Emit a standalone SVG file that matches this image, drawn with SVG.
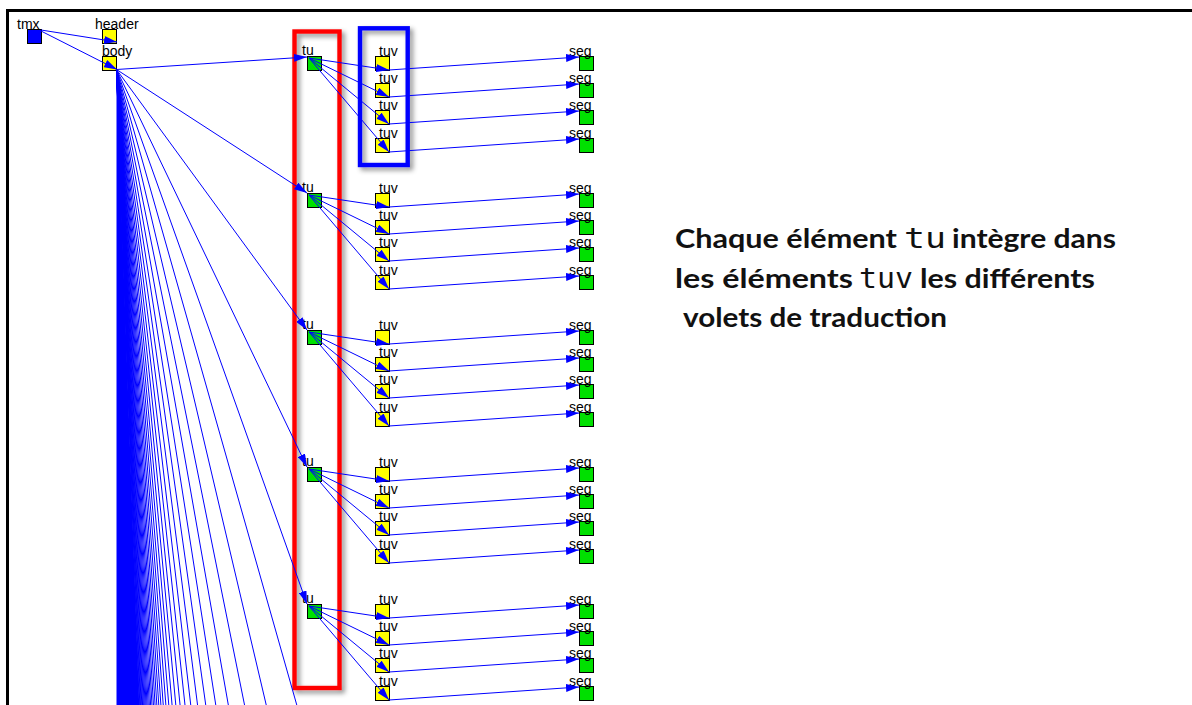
<svg xmlns="http://www.w3.org/2000/svg" width="1192" height="705" viewBox="0 0 1192 705">
<style>
.sq{stroke:#000;stroke-width:1}
.b{fill:#0000ff}
.y{fill:#ffff00}
.g{fill:#00e000}
.l{font-family:"Liberation Sans",Arial,sans-serif;font-size:14px;fill:#000}
.e{fill:none;stroke:#0000ff;stroke-width:1}
.a{marker-end:url(#ah)}
.p{font-family:Lato,"Open Sans",sans-serif;font-weight:700;font-size:27px;fill:#111}
.m{font-family:"DejaVu Sans Mono","Liberation Mono",monospace;font-size:28px;fill:#111}
.box{fill:none;stroke-width:4.4;filter:url(#sh)}
</style>
<defs>
<marker id="ah" markerUnits="userSpaceOnUse" markerWidth="13" markerHeight="8" refX="13" refY="4" orient="auto" viewBox="0 0 13 8"><path d="M0,0L13,4L0,8Z" fill="#0000ff"/></marker>
<filter id="sh" x="-30%" y="-10%" width="170%" height="125%"><feDropShadow dx="3" dy="3" stdDeviation="2.5" flood-color="#000" flood-opacity="0.45"/></filter>
</defs>
<rect width="1192" height="705" fill="#fff"/>
<path d="M7.5,705V10.5H1192" fill="none" stroke="#000" stroke-width="3"/>

<rect class="box" x="294.5" y="31.5" width="45" height="656.5" stroke="#ff0000"/>
<rect class="box" x="360" y="28.3" width="47.7" height="136.7" stroke="#0000ff"/>

<g id="nodes">
<g id="tmx"><rect class="sq b" x="27.5" y="29.5" width="14" height="14"/><text class="l" x="17" y="29">tmx</text></g>
<g id="header"><rect class="sq y" x="102.5" y="29.5" width="14" height="14"/><text class="l" x="95" y="29">header</text></g>
<g id="body"><rect class="sq y" x="102.5" y="56.5" width="14" height="14"/><text class="l" x="102" y="56">body</text></g>

<g id="tu1"><rect class="sq g" x="307.5" y="56.5" width="14" height="14"/><text class="l" x="302" y="55">tu</text></g>
<g id="tuv1a"><rect class="sq y" x="375.5" y="56.5" width="14" height="14"/><text class="l" x="379" y="56">tuv</text></g>
<g id="tuv1b"><rect class="sq y" x="375.5" y="83.5" width="14" height="14"/><text class="l" x="379" y="83">tuv</text></g>
<g id="tuv1c"><rect class="sq y" x="375.5" y="110.5" width="14" height="14"/><text class="l" x="379" y="110">tuv</text></g>
<g id="tuv1d"><rect class="sq y" x="375.5" y="138.5" width="14" height="14"/><text class="l" x="379" y="138">tuv</text></g>
<g id="seg1a"><rect class="sq g" x="579.5" y="56.5" width="14" height="14"/><text class="l" x="569" y="56">seg</text></g>
<g id="seg1b"><rect class="sq g" x="579.5" y="83.5" width="14" height="14"/><text class="l" x="569" y="83">seg</text></g>
<g id="seg1c"><rect class="sq g" x="579.5" y="110.5" width="14" height="14"/><text class="l" x="569" y="110">seg</text></g>
<g id="seg1d"><rect class="sq g" x="579.5" y="138.5" width="14" height="14"/><text class="l" x="569" y="138">seg</text></g>

<g id="tu2"><rect class="sq g" x="307.5" y="193.5" width="14" height="14"/><text class="l" x="302" y="192">tu</text></g>
<g id="tuv2a"><rect class="sq y" x="375.5" y="193.5" width="14" height="14"/><text class="l" x="379" y="193">tuv</text></g>
<g id="tuv2b"><rect class="sq y" x="375.5" y="220.5" width="14" height="14"/><text class="l" x="379" y="220">tuv</text></g>
<g id="tuv2c"><rect class="sq y" x="375.5" y="247.5" width="14" height="14"/><text class="l" x="379" y="247">tuv</text></g>
<g id="tuv2d"><rect class="sq y" x="375.5" y="275.5" width="14" height="14"/><text class="l" x="379" y="275">tuv</text></g>
<g id="seg2a"><rect class="sq g" x="579.5" y="193.5" width="14" height="14"/><text class="l" x="569" y="193">seg</text></g>
<g id="seg2b"><rect class="sq g" x="579.5" y="220.5" width="14" height="14"/><text class="l" x="569" y="220">seg</text></g>
<g id="seg2c"><rect class="sq g" x="579.5" y="247.5" width="14" height="14"/><text class="l" x="569" y="247">seg</text></g>
<g id="seg2d"><rect class="sq g" x="579.5" y="275.5" width="14" height="14"/><text class="l" x="569" y="275">seg</text></g>

<g id="tu3"><rect class="sq g" x="307.5" y="330.5" width="14" height="14"/><text class="l" x="302" y="329">tu</text></g>
<g id="tuv3a"><rect class="sq y" x="375.5" y="330.5" width="14" height="14"/><text class="l" x="379" y="330">tuv</text></g>
<g id="tuv3b"><rect class="sq y" x="375.5" y="357.5" width="14" height="14"/><text class="l" x="379" y="357">tuv</text></g>
<g id="tuv3c"><rect class="sq y" x="375.5" y="384.5" width="14" height="14"/><text class="l" x="379" y="384">tuv</text></g>
<g id="tuv3d"><rect class="sq y" x="375.5" y="412.5" width="14" height="14"/><text class="l" x="379" y="412">tuv</text></g>
<g id="seg3a"><rect class="sq g" x="579.5" y="330.5" width="14" height="14"/><text class="l" x="569" y="330">seg</text></g>
<g id="seg3b"><rect class="sq g" x="579.5" y="357.5" width="14" height="14"/><text class="l" x="569" y="357">seg</text></g>
<g id="seg3c"><rect class="sq g" x="579.5" y="384.5" width="14" height="14"/><text class="l" x="569" y="384">seg</text></g>
<g id="seg3d"><rect class="sq g" x="579.5" y="412.5" width="14" height="14"/><text class="l" x="569" y="412">seg</text></g>

<g id="tu4"><rect class="sq g" x="307.5" y="467.5" width="14" height="14"/><text class="l" x="302" y="466">tu</text></g>
<g id="tuv4a"><rect class="sq y" x="375.5" y="467.5" width="14" height="14"/><text class="l" x="379" y="467">tuv</text></g>
<g id="tuv4b"><rect class="sq y" x="375.5" y="494.5" width="14" height="14"/><text class="l" x="379" y="494">tuv</text></g>
<g id="tuv4c"><rect class="sq y" x="375.5" y="521.5" width="14" height="14"/><text class="l" x="379" y="521">tuv</text></g>
<g id="tuv4d"><rect class="sq y" x="375.5" y="549.5" width="14" height="14"/><text class="l" x="379" y="549">tuv</text></g>
<g id="seg4a"><rect class="sq g" x="579.5" y="467.5" width="14" height="14"/><text class="l" x="569" y="467">seg</text></g>
<g id="seg4b"><rect class="sq g" x="579.5" y="494.5" width="14" height="14"/><text class="l" x="569" y="494">seg</text></g>
<g id="seg4c"><rect class="sq g" x="579.5" y="521.5" width="14" height="14"/><text class="l" x="569" y="521">seg</text></g>
<g id="seg4d"><rect class="sq g" x="579.5" y="549.5" width="14" height="14"/><text class="l" x="569" y="549">seg</text></g>

<g id="tu5"><rect class="sq g" x="307.5" y="604.5" width="14" height="14"/><text class="l" x="302" y="603">tu</text></g>
<g id="tuv5a"><rect class="sq y" x="375.5" y="604.5" width="14" height="14"/><text class="l" x="379" y="604">tuv</text></g>
<g id="tuv5b"><rect class="sq y" x="375.5" y="631.5" width="14" height="14"/><text class="l" x="379" y="631">tuv</text></g>
<g id="tuv5c"><rect class="sq y" x="375.5" y="658.5" width="14" height="14"/><text class="l" x="379" y="658">tuv</text></g>
<g id="tuv5d"><rect class="sq y" x="375.5" y="686.5" width="14" height="14"/><text class="l" x="379" y="686">tuv</text></g>
<g id="seg5a"><rect class="sq g" x="579.5" y="604.5" width="14" height="14"/><text class="l" x="569" y="604">seg</text></g>
<g id="seg5b"><rect class="sq g" x="579.5" y="631.5" width="14" height="14"/><text class="l" x="569" y="631">seg</text></g>
<g id="seg5c"><rect class="sq g" x="579.5" y="658.5" width="14" height="14"/><text class="l" x="569" y="658">seg</text></g>
<g id="seg5d"><rect class="sq g" x="579.5" y="686.5" width="14" height="14"/><text class="l" x="569" y="686">seg</text></g>
</g>

<g id="connectors">
<path class="e a" d="M41,30L117,42"/>
<path class="e a" d="M41,31L117,69.5"/>
<path class="e a" d="M116.5,69.5L307,57"/>
<path class="e a" d="M116.5,69.5L307,193"/>
<path class="e a" d="M116.5,69.5L307,330"/>
<path class="e a" d="M116.5,69.5L307,467"/>
<path class="e a" d="M116.5,69.5L307,604"/>
<path class="e" d="M116.5 69.5L307 741M116.5 69.5L307 878M116.5 69.5L307 1015M116.5 69.5L307 1152M116.5 69.5L307 1289M116.5 69.5L307 1426M116.5 69.5L307 1563M116.5 69.5L307 1700M116.5 69.5L307 1837M116.5 69.5L307 1974M116.5 69.5L307 2111M116.5 69.5L307 2248M116.5 69.5L307 2385M116.5 69.5L307 2522M116.5 69.5L307 2659M116.5 69.5L307 2796M116.5 69.5L307 2933M116.5 69.5L307 3070M116.5 69.5L307 3207M116.5 69.5L307 3344M116.5 69.5L307 3481M116.5 69.5L307 3618M116.5 69.5L307 3755M116.5 69.5L307 3892M116.5 69.5L307 4029M116.5 69.5L307 4166M116.5 69.5L307 4303M116.5 69.5L307 4440M116.5 69.5L307 4577M116.5 69.5L307 4714M116.5 69.5L307 4851M116.5 69.5L307 4988M116.5 69.5L307 5125M116.5 69.5L307 5262M116.5 69.5L307 5399"/>
<path d="M116.5,69.5L307,5399H116.5Z" fill="#0000ff"/>

<path class="e a" d="M309,58L389,70"/>
<path class="e a" d="M309,58L389,97"/>
<path class="e a" d="M309,58L389,124"/>
<path class="e a" d="M309,58L389,152"/>
<path class="e a" d="M389,70L579,57"/>
<path class="e a" d="M389,97L579,84"/>
<path class="e a" d="M389,124L579,111"/>
<path class="e a" d="M389,152L579,139"/>

<path class="e a" d="M309,195L389,207"/>
<path class="e a" d="M309,195L389,234"/>
<path class="e a" d="M309,195L389,261"/>
<path class="e a" d="M309,195L389,289"/>
<path class="e a" d="M389,207L579,194"/>
<path class="e a" d="M389,234L579,221"/>
<path class="e a" d="M389,261L579,248"/>
<path class="e a" d="M389,289L579,276"/>

<path class="e a" d="M309,332L389,344"/>
<path class="e a" d="M309,332L389,371"/>
<path class="e a" d="M309,332L389,398"/>
<path class="e a" d="M309,332L389,426"/>
<path class="e a" d="M389,344L579,331"/>
<path class="e a" d="M389,371L579,358"/>
<path class="e a" d="M389,398L579,385"/>
<path class="e a" d="M389,426L579,413"/>

<path class="e a" d="M309,469L389,481"/>
<path class="e a" d="M309,469L389,508"/>
<path class="e a" d="M309,469L389,535"/>
<path class="e a" d="M309,469L389,563"/>
<path class="e a" d="M389,481L579,468"/>
<path class="e a" d="M389,508L579,495"/>
<path class="e a" d="M389,535L579,522"/>
<path class="e a" d="M389,563L579,550"/>

<path class="e a" d="M309,606L389,618"/>
<path class="e a" d="M309,606L389,645"/>
<path class="e a" d="M309,606L389,672"/>
<path class="e a" d="M309,606L389,700"/>
<path class="e a" d="M389,618L579,605"/>
<path class="e a" d="M389,645L579,632"/>
<path class="e a" d="M389,672L579,659"/>
<path class="e a" d="M389,700L579,687"/>
</g>

<g id="caption">
<text class="p" x="675" y="248" textLength="222" lengthAdjust="spacingAndGlyphs">Chaque élément</text>
<text class="m" x="904" y="248" textLength="42" lengthAdjust="spacingAndGlyphs">tu</text>
<text class="p" x="952" y="248" textLength="164" lengthAdjust="spacingAndGlyphs">intègre dans</text>
<text class="p" x="675" y="287.5" textLength="178" lengthAdjust="spacingAndGlyphs">les éléments</text>
<text class="m" x="859" y="287.5" textLength="54" lengthAdjust="spacingAndGlyphs">tuv</text>
<text class="p" x="920" y="287.5" textLength="175" lengthAdjust="spacingAndGlyphs">les différents</text>
<text class="p" x="683" y="327" textLength="264" lengthAdjust="spacingAndGlyphs">volets de traduction</text>
</g>
</svg>
